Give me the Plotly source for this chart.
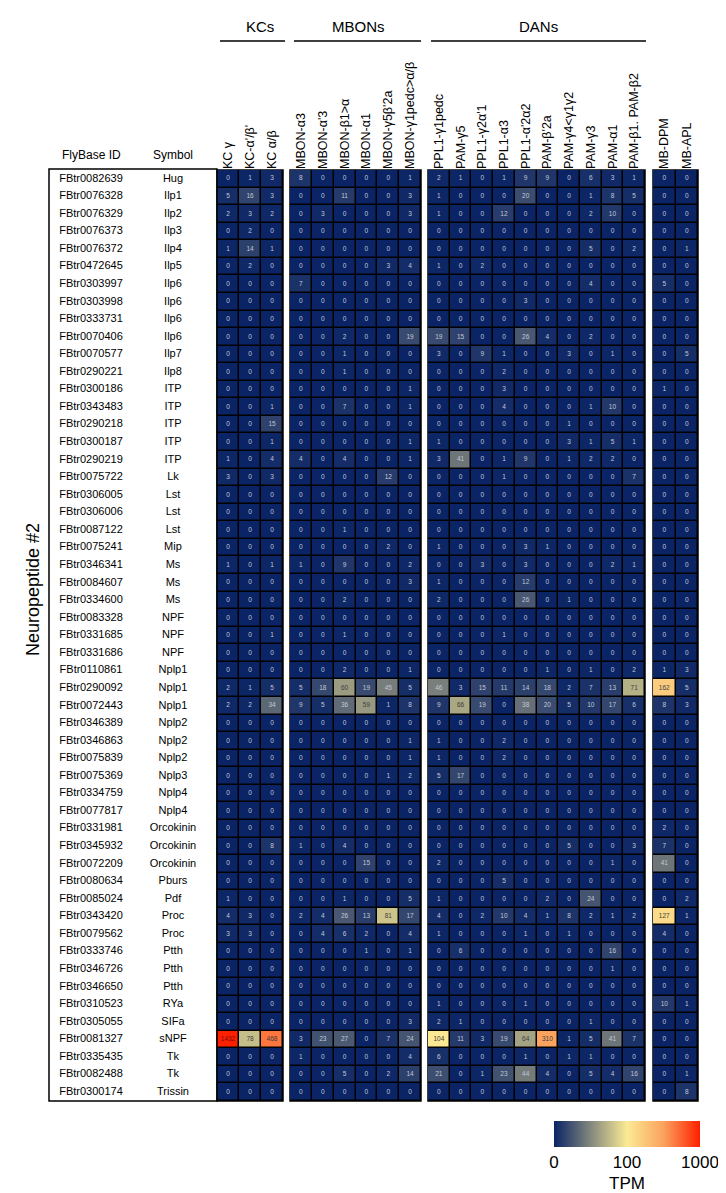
import math
import plotly.graph_objects as go

W, H = 726, 1193

flybase_ids = [
    "FBtr0082639", "FBtr0076328", "FBtr0076329", "FBtr0076373", "FBtr0076372", "FBtr0472645",
    "FBtr0303997", "FBtr0303998", "FBtr0333731", "FBtr0070406", "FBtr0070577", "FBtr0290221",
    "FBtr0300186", "FBtr0343483", "FBtr0290218", "FBtr0300187", "FBtr0290219", "FBtr0075722",
    "FBtr0306005", "FBtr0306006", "FBtr0087122", "FBtr0075241", "FBtr0346341", "FBtr0084607",
    "FBtr0334600", "FBtr0083328", "FBtr0331685", "FBtr0331686", "FBtr0110861", "FBtr0290092",
    "FBtr0072443", "FBtr0346389", "FBtr0346863", "FBtr0075839", "FBtr0075369", "FBtr0334759",
    "FBtr0077817", "FBtr0331981", "FBtr0345932", "FBtr0072209", "FBtr0080634", "FBtr0085024",
    "FBtr0343420", "FBtr0079562", "FBtr0333746", "FBtr0346726", "FBtr0346650", "FBtr0310523",
    "FBtr0305055", "FBtr0081327", "FBtr0335435", "FBtr0082488", "FBtr0300174",
]
symbols = [
    "Hug", "Ilp1", "Ilp2", "Ilp3", "Ilp4", "Ilp5", "Ilp6", "Ilp6", "Ilp6", "Ilp6", "Ilp7", "Ilp8",
    "ITP", "ITP", "ITP", "ITP", "ITP", "Lk", "Lst", "Lst", "Lst", "Mip", "Ms", "Ms", "Ms",
    "NPF", "NPF", "NPF", "Nplp1", "Nplp1", "Nplp1", "Nplp2", "Nplp2", "Nplp2", "Nplp3",
    "Nplp4", "Nplp4", "Orcokinin", "Orcokinin", "Orcokinin", "Pburs", "Pdf", "Proc", "Proc",
    "Ptth", "Ptth", "Ptth", "RYa", "SIFa", "sNPF", "Tk", "Tk", "Trissin",
]

kc_cols = ["KC γ", "KC-α'/β'", "KC α/β"]
mbon_cols = ["MBON-α3", "MBON-α'3", "MBON-β1&gt;α", "MBON-α1", "MBON-γ5β'2a", "MBON-γ1pedc&gt;α/β"]
dan_cols = ["PPL1-γ1pedc", "PAM-γ5", "PPL1-γ2α'1", "PPL1-α3", "PPL1-α'2α2", "PAM-β'2a",
            "PAM-γ4&lt;γ1γ2", "PAM-γ3", "PAM-α1", "PAM-β1. PAM-β2"]
mb_cols = ["MB-DPM", "MB-APL"]

kc_vals = [
    [0, 1, 3], [5, 16, 3], [2, 3, 2], [0, 2, 0], [1, 14, 1], [0, 2, 0], [0, 0, 0], [0, 0, 0],
    [0, 0, 0], [0, 0, 0], [0, 0, 0], [0, 0, 0], [0, 0, 0], [0, 0, 1], [0, 0, 15], [0, 0, 1],
    [1, 0, 4], [3, 0, 3], [0, 0, 0], [0, 0, 0], [0, 0, 0], [0, 0, 0], [1, 0, 1], [0, 0, 0],
    [0, 0, 0], [0, 0, 0], [0, 0, 1], [0, 0, 0], [0, 0, 0], [2, 1, 5], [2, 2, 34], [0, 0, 0],
    [0, 0, 0], [0, 0, 0], [0, 0, 0], [0, 0, 0], [0, 0, 0], [0, 0, 0], [0, 0, 8], [0, 0, 0],
    [0, 0, 0], [1, 0, 0], [4, 3, 0], [3, 3, 0], [0, 0, 0], [0, 0, 0], [0, 0, 0], [0, 0, 0],
    [0, 0, 0], [1432, 78, 468], [0, 0, 0], [0, 0, 0], [0, 0, 0],
]
mbon_vals = [
    [8, 0, 0, 0, 0, 1], [0, 0, 11, 0, 0, 3], [0, 3, 0, 0, 0, 3], [0, 0, 0, 0, 0, 0],
    [0, 0, 0, 0, 0, 0], [0, 0, 0, 0, 3, 4], [7, 0, 0, 0, 0, 0], [0, 0, 0, 0, 0, 0],
    [0, 0, 0, 0, 0, 0], [0, 0, 2, 0, 0, 19], [0, 0, 1, 0, 0, 0], [0, 0, 1, 0, 0, 0],
    [0, 0, 0, 0, 0, 1], [0, 0, 7, 0, 0, 1], [0, 0, 0, 0, 0, 0], [0, 0, 0, 0, 0, 1],
    [4, 0, 4, 0, 0, 1], [0, 0, 0, 0, 12, 0], [0, 0, 0, 0, 0, 0], [0, 0, 0, 0, 0, 0],
    [0, 0, 1, 0, 0, 0], [0, 0, 0, 0, 2, 0], [1, 0, 9, 0, 0, 2], [0, 0, 0, 0, 0, 3],
    [0, 0, 2, 0, 0, 0], [0, 0, 0, 0, 0, 0], [0, 0, 1, 0, 0, 0], [0, 0, 0, 0, 0, 0],
    [0, 0, 2, 0, 0, 1], [5, 18, 60, 19, 45, 5], [9, 5, 36, 59, 1, 8], [0, 0, 0, 0, 0, 0],
    [0, 0, 0, 0, 0, 1], [0, 0, 0, 0, 0, 1], [0, 0, 0, 0, 1, 2], [0, 0, 0, 0, 0, 0],
    [0, 0, 0, 0, 0, 0], [0, 0, 0, 0, 0, 0], [1, 0, 4, 0, 0, 0], [0, 0, 0, 15, 0, 0],
    [0, 0, 0, 0, 0, 0], [0, 0, 1, 0, 0, 5], [2, 4, 26, 13, 81, 17], [0, 4, 6, 2, 0, 4],
    [0, 0, 0, 1, 0, 1], [0, 0, 0, 0, 0, 0], [0, 0, 0, 0, 0, 0], [0, 0, 0, 0, 0, 0],
    [0, 0, 0, 0, 0, 3], [3, 23, 27, 0, 7, 24], [1, 0, 0, 0, 0, 4], [0, 0, 5, 0, 2, 14],
    [0, 0, 0, 0, 0, 0],
]
dan_vals = [
    [2, 1, 0, 1, 9, 9, 0, 6, 3, 1], [1, 0, 0, 0, 20, 0, 0, 1, 8, 5], [1, 0, 0, 12, 0, 0, 0, 2, 10, 0],
    [0, 0, 0, 0, 0, 0, 0, 0, 0, 0], [0, 0, 0, 0, 0, 0, 0, 5, 0, 2], [1, 0, 2, 0, 0, 0, 0, 0, 0, 0],
    [0, 0, 0, 0, 0, 0, 0, 4, 0, 0], [0, 0, 0, 0, 3, 0, 0, 0, 0, 0], [0, 0, 0, 0, 0, 0, 0, 0, 0, 0],
    [19, 15, 0, 0, 26, 4, 0, 2, 0, 0], [3, 0, 9, 1, 0, 0, 3, 0, 1, 0], [0, 0, 0, 2, 0, 0, 0, 0, 0, 0],
    [0, 0, 0, 3, 0, 0, 0, 0, 0, 0], [0, 0, 0, 4, 0, 0, 0, 1, 10, 0], [0, 0, 0, 0, 0, 0, 1, 0, 0, 0],
    [1, 0, 0, 0, 0, 0, 3, 1, 5, 1], [3, 41, 0, 1, 9, 0, 1, 2, 2, 0], [0, 0, 0, 1, 0, 0, 0, 0, 0, 7],
    [0, 0, 0, 0, 0, 0, 0, 0, 0, 0], [0, 0, 0, 0, 0, 0, 0, 0, 0, 0], [0, 0, 0, 0, 0, 0, 0, 0, 0, 0],
    [1, 0, 0, 0, 3, 1, 0, 0, 0, 0], [0, 0, 3, 0, 3, 0, 0, 0, 2, 1], [1, 0, 0, 0, 12, 0, 0, 0, 0, 0],
    [2, 0, 0, 0, 26, 0, 1, 0, 0, 0], [0, 0, 0, 0, 0, 0, 0, 0, 0, 0], [0, 0, 0, 1, 0, 0, 0, 0, 0, 0],
    [0, 0, 0, 0, 0, 0, 0, 0, 0, 0], [0, 0, 0, 0, 0, 1, 0, 1, 0, 2], [46, 3, 15, 11, 14, 18, 2, 7, 13, 71],
    [9, 66, 19, 0, 38, 20, 5, 10, 17, 6], [0, 0, 0, 0, 0, 0, 0, 0, 0, 0], [1, 0, 0, 2, 0, 0, 0, 0, 0, 0],
    [1, 0, 0, 2, 0, 0, 0, 0, 0, 0], [5, 17, 0, 0, 0, 0, 0, 0, 0, 0], [0, 0, 0, 0, 0, 0, 0, 0, 0, 0],
    [0, 0, 0, 0, 0, 0, 0, 0, 0, 0], [0, 0, 0, 0, 0, 0, 0, 0, 0, 0], [0, 0, 0, 0, 0, 0, 5, 0, 0, 3],
    [2, 0, 0, 0, 0, 0, 0, 0, 1, 0], [0, 0, 0, 5, 0, 0, 0, 0, 0, 0], [1, 0, 0, 0, 0, 2, 0, 24, 0, 0],
    [4, 0, 2, 10, 4, 1, 8, 2, 1, 2], [1, 0, 0, 0, 1, 0, 1, 0, 0, 0], [0, 6, 0, 0, 0, 0, 0, 0, 16, 0],
    [0, 0, 0, 0, 0, 0, 0, 0, 1, 0], [0, 0, 0, 0, 0, 0, 0, 0, 0, 0], [1, 0, 0, 0, 1, 0, 0, 0, 0, 0],
    [2, 1, 0, 0, 0, 0, 0, 1, 0, 0], [104, 11, 3, 19, 64, 310, 1, 5, 41, 7], [6, 0, 0, 0, 1, 0, 1, 1, 0, 0],
    [21, 0, 1, 23, 44, 4, 0, 5, 4, 16], [0, 0, 0, 0, 0, 0, 0, 0, 0, 0],
]
mb_vals = [
    [0, 0], [0, 0], [0, 0], [0, 0], [0, 1], [0, 0], [5, 0], [0, 0], [0, 0], [0, 0], [0, 5], [0, 0],
    [1, 0], [0, 0], [0, 0], [0, 0], [0, 0], [0, 0], [0, 0], [0, 0], [0, 0], [0, 0], [0, 0], [0, 0],
    [0, 0], [0, 0], [0, 0], [0, 0], [1, 3], [162, 5], [8, 3], [0, 0], [0, 0], [0, 0], [0, 0], [0, 0],
    [0, 0], [2, 0], [7, 0], [41, 0], [0, 0], [0, 2], [127, 1], [4, 0], [0, 0], [0, 0], [0, 0],
    [10, 1], [0, 0], [0, 0], [0, 0], [0, 1], [0, 8],
]

colorscale = [
    [0.0, "#0a2466"],
    [0.5, "#fbea94"],
    [0.75, "#fba25e"],
    [1.0, "#ff2000"],
]
FONT = "Arial, Liberation Sans, sans-serif"


def px_x(p):
    return p / W


def px_y(p):
    return 1 - p / H


def tpm_to_t(v):
    if v <= 100:
        return v / 200.0
    return min(1.0, 0.5 + 0.5 * (math.log10(v) - 2))


def txt_color(v):
    t = tpm_to_t(v)
    if t >= 0.95:
        return "#7a0c0c"
    if t > 0.27:
        return "#3d3d3d"
    return "#c3c7d3"


rows = list(range(len(flybase_ids)))
top_px, bot_px = 162, 1093

groups = [
    ("x", "xaxis", kc_cols, kc_vals, (209, 275)),
    ("x2", "xaxis2", mbon_cols, mbon_vals, (282, 413)),
    ("x3", "xaxis3", dan_cols, dan_vals, (420, 637)),
    ("x4", "xaxis4", mb_cols, mb_vals, (645, 690)),
]

fig = go.Figure()
shapes = []
layout_axes = {}

for xref, axname, cols, vals, (x0, x1) in groups:
    z = [[tpm_to_t(v) for v in r] for r in vals]
    fig.add_trace(go.Heatmap(
        x=cols, y=rows, z=z, coloraxis="coloraxis", xgap=1.5, ygap=1.5,
        xaxis=xref, yaxis="y", hoverinfo="skip",
    ))
    tx, ty, tt, tc = [], [], [], []
    for i, r in enumerate(vals):
        for j, v in enumerate(r):
            tx.append(cols[j]); ty.append(i); tt.append(str(v)); tc.append(txt_color(v))
    fig.add_trace(go.Scatter(
        x=tx, y=ty, text=tt, mode="text", xaxis=xref, yaxis="y",
        textfont=dict(size=6.5, color=tc, family=FONT), hoverinfo="skip",
    ))
    shapes.append(dict(type="rect", xref="paper", yref="paper", layer="below",
                       x0=px_x(x0), x1=px_x(x1), y0=px_y(bot_px), y1=px_y(top_px),
                       fillcolor="black", line=dict(color="black", width=1.5)))
    layout_axes[axname] = dict(
        domain=[px_x(x0), px_x(x1)], anchor="y", side="top", tickangle=-90, ticks="",
        showgrid=False, zeroline=False, showline=False, type="category",
        tickfont=dict(size=12.5, color="black", family=FONT), fixedrange=True,
    )

# Row labels
fig.add_trace(go.Scatter(
    x=[0.25] * len(rows), y=rows, text=flybase_ids, mode="text", xaxis="x5", yaxis="y",
    textfont=dict(size=11, color="black", family=FONT), hoverinfo="skip",
))
fig.add_trace(go.Scatter(
    x=[0.738] * len(rows), y=rows, text=symbols, mode="text", xaxis="x5", yaxis="y",
    textfont=dict(size=11, color="black", family=FONT), hoverinfo="skip",
))
layout_axes["xaxis5"] = dict(domain=[px_x(41), px_x(209)], range=[0, 1], visible=False,
                             anchor="y", fixedrange=True)

# label box
shapes.append(dict(type="rect", xref="paper", yref="paper",
                   x0=px_x(41), x1=px_x(209), y0=px_y(bot_px), y1=px_y(161),
                   line=dict(color="black", width=1.5)))

# group header lines
header_groups = [("KCs", 252, 212, 277), ("MBONs", 350, 286, 413), ("DANs", 530, 423, 638)]
annotations = []
for name, cx, lx0, lx1 in header_groups:
    shapes.append(dict(type="line", xref="paper", yref="paper",
                       x0=px_x(lx0), x1=px_x(lx1), y0=px_y(33), y1=px_y(33),
                       line=dict(color="black", width=1.5)))
    annotations.append(dict(text=name, x=px_x(cx), y=px_y(18), xref="paper", yref="paper",
                            showarrow=False, xanchor="center", yanchor="middle",
                            font=dict(size=15, color="black", family=FONT)))

annotations.append(dict(text="FlyBase ID", x=px_x(83), y=px_y(147), xref="paper", yref="paper",
                        showarrow=False, xanchor="center", yanchor="middle",
                        font=dict(size=12, color="black", family=FONT)))
annotations.append(dict(text="Symbol", x=px_x(165), y=px_y(147), xref="paper", yref="paper",
                        showarrow=False, xanchor="center", yanchor="middle",
                        font=dict(size=12, color="black", family=FONT)))
annotations.append(dict(text="Neuropeptide #2", x=px_x(25), y=px_y(582), xref="paper", yref="paper",
                        showarrow=False, xanchor="center", yanchor="middle", textangle=-90,
                        font=dict(size=18, color="black", family=FONT)))

fig.update_layout(
    width=W, height=H, margin=dict(l=0, r=0, t=0, b=0),
    paper_bgcolor="white", plot_bgcolor="rgba(0,0,0,0)", showlegend=False,
    font=dict(family=FONT, color="black"),
    yaxis=dict(domain=[px_y(bot_px), px_y(top_px)], range=[len(rows) - 0.5, -0.5],
               visible=False, fixedrange=True),
    coloraxis=dict(
        colorscale=colorscale, cmin=0, cmax=1,
        colorbar=dict(
            orientation="h", x=px_x(619), xanchor="center", y=px_y(1113), yanchor="top",
            len=146, lenmode="pixels", thickness=26, thicknessmode="pixels",
            xpad=0, ypad=0, outlinewidth=0, ticks="",
            tickvals=[0, 0.5, 1], ticktext=["0", "100", "1000"],
            tickfont=dict(size=17, color="black", family=FONT),
            title=dict(text="TPM", side="bottom", font=dict(size=17, color="black", family=FONT)),
        ),
    ),
    shapes=shapes, annotations=annotations,
    **layout_axes,
)

fig.write_html("out.html")
